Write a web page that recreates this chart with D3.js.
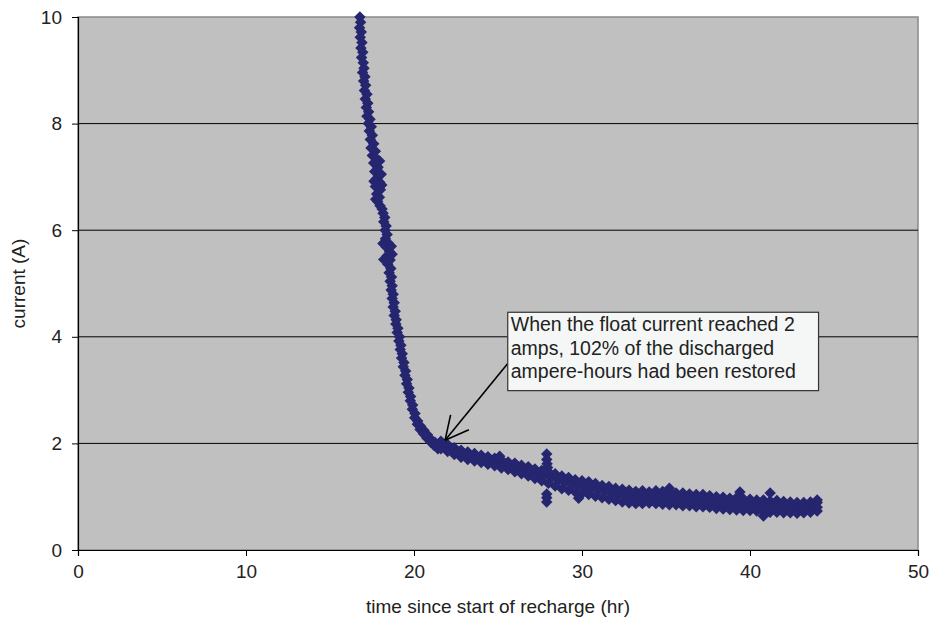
<!DOCTYPE html>
<html>
<head>
<meta charset="utf-8">
<script src="https://cdn.jsdelivr.net/npm/d3@7"></script>
<style>
  body { margin: 0; background: #fff; }
  text { font-family: "Liberation Sans", Arial, sans-serif; fill: #222; }
</style>
</head>
<body>
<svg id="chart" width="934" height="622"></svg>
<script>
// x ticks / y ticks
const xTicks = [0, 10, 20, 30, 40, 50]
const yTicks = [0, 2, 4, 6, 8, 10]
const gridValues = [2, 4, 6, 8]

// [time (hr), current (A)], bulk charge drop-off
const steepPhase = [
  [16.78,10.00],[16.82,9.90],[16.76,9.80],[16.86,9.72],[16.80,9.62],[16.90,9.52],[16.84,9.42],[16.95,9.34],
  [16.88,9.24],[16.98,9.14],[17.02,9.04],[16.94,8.96],[17.08,8.88],[17.00,8.80],[17.12,8.72],[17.05,8.62],
  [17.20,8.55],[17.10,8.46],[17.25,8.38],[17.16,8.30],[17.30,8.22],[17.20,8.14],[17.38,8.08],[17.28,8.00],
  [17.46,7.94],[17.34,7.86],[17.52,7.78],[17.40,7.70],[17.60,7.62],[17.44,7.54],[17.70,7.48],[17.52,7.40],
  [17.78,7.34],[17.60,7.26],[17.86,7.18],[17.66,7.10],[17.90,7.04],[17.74,6.96],[17.96,6.90],[17.70,6.82],
  [18.00,6.76],[17.78,6.68],[17.94,6.62],[17.84,6.54],[17.98,6.46],[18.10,6.40],[18.16,6.32],[18.26,6.24],
  [18.20,6.16],[18.34,6.08],[18.28,6.00],[18.40,5.92],[18.30,5.84],[18.46,5.76],[18.36,5.68],[18.54,5.60],
  [18.40,5.52],[18.58,5.44],[18.44,5.36],[18.62,5.28],[18.52,5.20],[18.66,5.12],[18.58,5.04],[18.70,4.96],
  [18.64,4.88],[18.76,4.80],[18.70,4.72],[18.82,4.64],[18.76,4.56],[18.88,4.48],[18.82,4.40],[18.94,4.32],
  [18.92,4.24],[19.04,4.16],[19.00,4.08],[19.14,4.00],[19.10,3.92],[19.22,3.84],[19.18,3.76],[19.30,3.68],
  [19.26,3.60],[19.40,3.52],[19.36,3.44],[19.50,3.36],[19.46,3.28],[19.60,3.20],[19.56,3.12],[19.70,3.04],
  [19.66,2.96],[19.80,2.88],[19.78,2.80],[19.92,2.72],[19.90,2.64],[20.06,2.56],[20.04,2.48],[20.22,2.42],
  [20.20,2.36],[20.40,2.32],[20.36,2.26],[20.60,2.24],[20.56,2.18],[20.80,2.16],[20.76,2.10],[21.00,2.08],
  [21.00,2.02],[21.24,2.02],[21.20,1.96],[21.46,1.96],[21.42,1.90],
  [17.95,7.30],[18.05,7.05],[17.62,6.92],[18.08,6.85],[17.72,6.58],
  [18.15,5.75],[18.65,5.70],[18.20,5.45],[18.70,5.55]
]

// float charge tail
const floatPhase = [
  [21.6,2.04],[21.8,1.96],[21.6,1.90],[22.0,1.98],[22.2,1.91],[22.0,1.85],
  [22.4,1.92],[22.6,1.85],[22.4,1.79],[22.8,1.87],[23.0,1.80],[22.8,1.74],
  [23.2,1.84],[23.4,1.77],[23.2,1.70],[23.6,1.81],[23.8,1.73],[23.6,1.67],
  [24.0,1.78],[24.2,1.71],[24.0,1.64],[24.4,1.75],[24.6,1.68],[24.4,1.61],
  [24.8,1.72],[25.0,1.64],[24.8,1.58],[25.2,1.69],[25.4,1.62],[25.2,1.54],
  [25.6,1.65],[25.8,1.58],[25.6,1.51],[26.0,1.63],[26.2,1.55],[26.0,1.47],
  [26.4,1.59],[26.6,1.51],[26.4,1.43],[26.8,1.56],[27.0,1.47],[26.8,1.39],
  [27.2,1.52],[27.4,1.43],[27.2,1.34],[27.6,1.49],[27.8,1.40],[27.6,1.30],
  [28.0,1.47],[28.2,1.36],[28.0,1.25],[28.4,1.43],[28.6,1.31],[28.4,1.20],
  [28.8,1.39],[29.0,1.27],[28.8,1.15],[29.2,1.36],[29.4,1.24],[29.2,1.12],
  [29.6,1.32],[29.8,1.21],[29.6,1.09],[30.0,1.30],[30.2,1.18],[30.0,1.06],
  [30.4,1.28],[30.6,1.16],[30.4,1.04],[30.8,1.25],[31.0,1.13],[30.8,1.01],
  [31.2,1.21],[31.4,1.10],[31.2,0.98],[31.6,1.19],[31.8,1.07],[31.6,0.95],
  [32.0,1.16],[32.2,1.05],[32.0,0.93],[32.4,1.14],[32.6,1.02],[32.4,0.90],
  [32.8,1.12],[33.0,1.00],[32.8,0.88],[33.2,1.10],[33.4,0.99],[33.2,0.87],
  [33.6,1.11],[33.8,0.99],[33.6,0.87],[34.0,1.09],[34.2,0.99],[34.0,0.88],
  [34.4,1.11],[34.6,0.99],[34.4,0.87],[34.8,1.10],[35.0,0.99],[34.8,0.86],
  [35.2,1.08],[35.4,0.98],[35.2,0.85],[35.6,1.07],[35.8,0.97],[35.6,0.85],
  [36.0,1.07],[36.2,0.96],[36.0,0.83],[36.4,1.05],[36.6,0.95],[36.4,0.83],
  [36.8,1.04],[37.0,0.94],[36.8,0.81],[37.2,1.04],[37.4,0.93],[37.2,0.81],
  [37.6,1.02],[37.8,0.92],[37.6,0.80],[38.0,1.00],[38.2,0.90],[38.0,0.78],
  [38.4,0.99],[38.6,0.89],[38.4,0.77],[38.8,0.97],[39.0,0.88],[38.8,0.76],
  [39.2,0.98],[39.4,0.87],[39.2,0.75],[39.6,0.96],[39.8,0.86],[39.6,0.74],
  [40.0,0.95],[40.2,0.86],[40.0,0.74],[40.4,0.94],[40.6,0.85],[40.4,0.73],
  [40.8,0.94],[41.0,0.84],[40.8,0.72],[41.2,0.92],[41.4,0.83],[41.2,0.71],
  [41.6,0.93],[41.8,0.82],[41.6,0.71],[42.0,0.91],[42.2,0.82],[42.0,0.70],
  [42.4,0.90],[42.6,0.81],[42.4,0.70],[42.8,0.89],[43.0,0.81],[42.8,0.69],
  [43.2,0.89],[43.4,0.81],[43.2,0.70],[43.6,0.90],[43.8,0.82],[43.6,0.71],
  [44.0,0.89],[44.0,0.80],[44.0,0.73]
]

// stray readings sticking out of the band
const outliers = [
  [27.9,1.80],[27.9,1.70],[27.92,1.62],[27.95,1.55],[27.9,1.05],[27.9,0.98],[27.9,0.90],
  [25.1,1.76],[29.8,0.97],[35.2,1.16],[39.4,1.09],[41.2,1.07],[44.0,0.94],[40.8,0.64]
]

const noteLines = [
  'When the float current reached 2',
  'amps, 102% of the discharged',
  'ampere-hours had been restored'
]

const margin = { top: 17, right: 16, bottom: 72, left: 78 }
const width = 934, height = 622
const svg = d3.select('#chart')

const x = d3.scaleLinear().domain([0, 50]).range([margin.left, width - margin.right])
const y = d3.scaleLinear().domain([0, 10]).range([height - margin.bottom, margin.top])

// plot area
svg.append('rect')
    .attr('x', x(0)).attr('y', y(10))
    .attr('width', x(50) - x(0)).attr('height', y(0) - y(10))
    .attr('fill', '#c0c0c0')
    .attr('stroke', '#8a8a8a').attr('stroke-width', 1.5)

svg.append('g').selectAll('line')
    .data(gridValues)
    .join('line')
    .attr('x1', x(0)).attr('x2', x(50))
    .attr('y1', d => y(d)).attr('y2', d => y(d))
    .attr('stroke', '#000').attr('stroke-width', 1)

// markers
const diamond = d3.symbol().type(d3.symbolSquare).size(66)
const points = steepPhase.concat(floatPhase, outliers)
svg.append('g').selectAll('path')
    .data(points)
    .join('path')
    .attr('d', diamond)
    .attr('transform', d => `translate(${x(d[0])},${y(d[1])}) rotate(45)`)
    .attr('fill', '#25266f')

// axes
const xAxis = svg.append('g')
    .attr('transform', `translate(0,${y(0)})`)
    .call(d3.axisBottom(x).tickValues(xTicks).tickSize(6).tickPadding(9))
const yAxis = svg.append('g')
    .attr('transform', `translate(${x(0)},0)`)
    .call(d3.axisLeft(y).tickValues(yTicks).tickSize(6).tickPadding(10))

;[xAxis, yAxis].forEach(g => {
  g.select('.domain').attr('stroke', '#000').attr('stroke-width', 1.2)
  g.selectAll('.tick line').attr('stroke', '#000')
  g.selectAll('.tick text')
    .style('font-family', '"Liberation Sans", Arial, sans-serif')
    .style('font-size', '19px').attr('fill', '#222')
})
yAxis.select('.tick:last-of-type line').remove()

svg.append('text')
    .attr('x', (x(0) + x(50)) / 2).attr('y', 613)
    .attr('text-anchor', 'middle')
    .style('font-size', '19px')
    .text('time since start of recharge (hr)')

svg.append('text')
    .attr('transform', `translate(25,${(y(0) + y(10)) / 2}) rotate(-90)`)
    .attr('text-anchor', 'middle')
    .style('font-size', '19px')
    .text('current (A)')

// annotation
const boxX = x(25.58), boxY = y(4.46)
const tip = [x(21.85), y(2.06)]
const start = [boxX, y(3.5)]

svg.append('line')
    .attr('x1', start[0]).attr('y1', start[1])
    .attr('x2', tip[0]).attr('y2', tip[1])
    .attr('stroke', '#000').attr('stroke-width', 1.6)

const ang = Math.atan2(start[1] - tip[1], start[0] - tip[0])
;[-0.47, 0.47].forEach(da => {
  svg.append('line')
      .attr('x1', tip[0]).attr('y1', tip[1])
      .attr('x2', tip[0] + 26 * Math.cos(ang + da))
      .attr('y2', tip[1] + 26 * Math.sin(ang + da))
      .attr('stroke', '#000').attr('stroke-width', 1.6)
})

svg.append('rect')
    .attr('x', boxX).attr('y', boxY)
    .attr('width', x(44.08) - boxX).attr('height', y(2.99) - boxY)
    .attr('fill', '#f5f7f7').attr('stroke', '#333').attr('stroke-width', 1.2)

svg.append('g').selectAll('text')
    .data(noteLines)
    .join('text')
    .attr('x', boxX + 3)
    .attr('y', (d, i) => boxY + 19 + i * 23.4)
    .style('font-size', '19.5px')
    .attr('fill', '#333')
    .text(d => d)
</script>
</body>
</html>
